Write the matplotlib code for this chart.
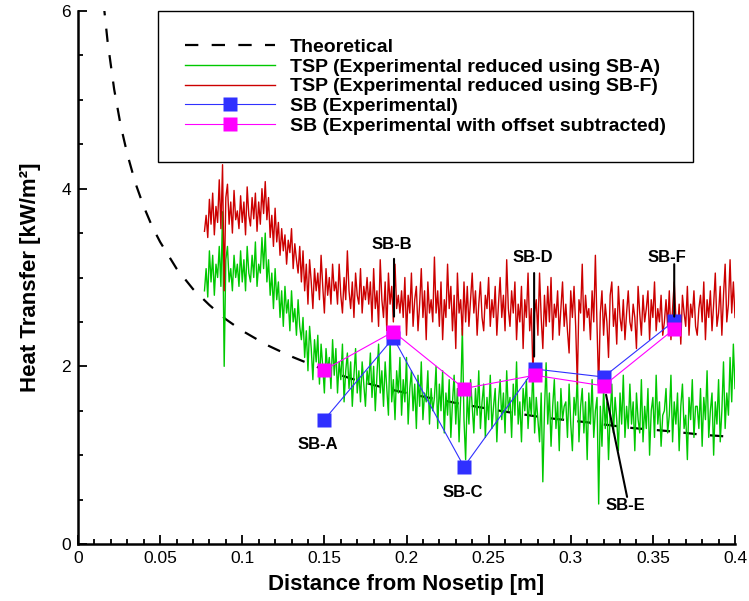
import numpy as np
import matplotlib
matplotlib.use('Agg')
import matplotlib.pyplot as plt

plt.rcParams['font.family'] = ['Liberation Sans', 'DejaVu Sans']

# ## Data
theo_x = [0.0155, 0.018, 0.022, 0.026, 0.030, 0.035, 0.040, 0.045, 0.050, 0.060,
          0.070, 0.080, 0.090, 0.100, 0.115, 0.130, 0.150, 0.170, 0.190, 0.210,
          0.235, 0.260, 0.285, 0.310, 0.335, 0.360, 0.380, 0.395]
theo_y = [6.10, 5.66, 5.12, 4.71, 4.39, 4.06, 3.80, 3.58, 3.40, 3.10,
          2.87, 2.69, 2.53, 2.40, 2.24, 2.11, 1.96, 1.84, 1.74, 1.66,
          1.57, 1.49, 1.42, 1.37, 1.31, 1.27, 1.23, 1.21]

# TSP traces, sampled every 0.001 m from 0.077 m
tsp_start, tsp_step = 0.077, 0.001
tsp_red = [
    3.52, 3.70, 3.45, 3.88, 3.60, 3.95, 3.48, 3.80, 3.62, 4.10, 3.55, 4.27, 2.85, 3.90, 4.05, 3.60, 3.85, 3.50, 3.98, 3.65,
    3.75, 3.55, 3.92, 3.62, 3.85, 3.48, 4.02, 3.70, 3.58, 3.90, 3.66, 3.95, 3.52, 3.85, 3.60, 4.00, 3.72, 4.08, 3.65, 3.90,
    3.45, 3.70, 3.35, 3.78, 3.40, 3.62, 3.25, 3.55, 3.30, 3.48, 3.15, 3.42, 3.28, 3.55, 3.10, 3.38, 3.20, 3.05, 3.35, 2.95,
    3.30, 2.85, 3.15, 2.70, 3.20, 2.95, 2.65, 3.10, 2.85, 3.05, 2.75, 3.25, 2.90, 2.60, 3.10, 2.80, 3.00, 2.70, 3.15, 2.85,
    2.95, 2.70, 3.15, 2.80, 2.60, 3.00, 2.75, 3.30, 2.85, 2.65, 2.95, 2.55, 3.05, 2.80, 2.70, 3.10, 2.60, 2.90, 2.75, 3.00,
    2.70, 2.95, 2.50, 3.10, 2.65, 2.85, 2.45, 3.20, 2.75, 2.55, 2.95, 2.40, 3.05, 2.70, 2.90, 2.50, 3.15, 2.65, 2.80, 2.60,
    2.85, 2.55, 3.00, 2.35, 2.80, 2.60, 3.05, 2.45, 2.75, 2.90, 2.40, 2.70, 3.10, 2.55, 2.85, 2.30, 2.95, 2.60, 2.75, 2.50,
    3.23, 2.60, 2.85, 2.45, 2.95, 2.30, 2.75, 2.55, 3.15, 2.65, 2.90, 2.40, 2.80, 2.20, 3.05, 2.60, 2.75, 2.35, 2.95, 2.50,
    2.90, 2.45, 2.75, 3.05, 2.60, 2.85, 2.35, 2.70, 2.95, 2.55, 2.40, 2.80, 2.65, 3.00, 2.45, 2.75, 2.55, 2.90, 2.35, 2.70,
    3.00, 2.55, 2.80, 2.40, 3.20, 2.65, 2.45, 2.85, 2.60, 2.95, 2.30, 2.70, 2.50, 2.90, 2.20, 2.75, 2.55, 3.05, 2.40, 2.65,
    1.90, 2.60, 2.75, 2.35, 3.05, 2.55, 2.20, 2.80, 2.45, 2.90, 2.50, 3.00, 2.30, 2.70, 2.55, 2.85, 2.35, 2.65, 2.95, 2.45,
    2.70, 2.40, 2.15, 2.85, 2.55, 2.90, 2.45, 1.80, 2.75, 2.60, 3.15, 2.40, 2.80, 2.55, 2.65, 2.30, 2.85, 2.50, 3.25, 2.45,
    1.75, 2.60, 2.85, 2.35, 2.70, 2.50, 2.10, 2.80, 2.95, 2.45, 2.65, 2.25, 2.90, 2.55, 2.40, 2.75, 2.30, 2.60, 2.85, 2.50,
    2.40, 2.70, 2.55, 2.20, 2.90, 2.60, 2.35, 2.80, 2.50, 2.65, 2.85, 2.30, 2.75, 2.55, 2.95, 2.40, 2.65, 2.50, 2.80, 2.35,
    2.50, 2.75, 2.45, 2.85, 2.30, 2.65, 2.95, 2.55, 2.40, 2.70, 2.25, 2.80, 2.60, 2.45, 2.90, 2.35, 2.70, 2.55, 2.85, 2.45,
    2.35, 2.65, 2.80, 2.50, 2.95, 2.30, 2.75, 2.55, 2.85, 2.40, 2.70, 3.05, 2.45, 2.60, 2.90, 2.35, 2.80, 3.15, 2.50, 2.70,
    3.20, 2.60, 2.95, 2.55]
tsp_green = [
    2.85, 3.10, 2.78, 3.30, 2.95, 3.25, 2.80, 3.15, 3.00, 3.35, 2.90, 3.74, 2.00, 3.20, 3.35, 2.95, 3.10, 2.85, 3.25, 3.00,
    3.15, 2.90, 3.30, 2.95, 3.20, 2.85, 3.35, 3.05, 2.95, 3.25, 3.00, 3.40, 2.90, 3.15, 3.05, 3.45, 3.10, 3.50, 2.95, 3.20,
    2.80, 3.05, 2.65, 3.10, 2.75, 2.95, 2.55, 2.85, 2.45, 2.90, 2.60, 2.75, 2.40, 2.85, 2.50, 2.65, 2.35, 2.75, 2.45, 2.30,
    2.55, 2.10, 2.40, 1.95, 2.45, 2.20, 1.85, 2.30, 2.05, 2.35, 1.80, 2.25, 2.00, 1.70, 2.20, 1.95, 2.10, 1.75, 2.30, 1.90,
    2.20, 1.70, 2.05, 1.85, 2.25, 1.60, 1.95, 2.15, 1.75, 2.05, 1.55, 1.90, 2.20, 1.70, 1.95, 1.60, 2.05, 1.80, 1.55, 1.95,
    1.80, 2.15, 1.65, 2.00, 1.50, 1.90, 2.25, 1.70, 1.95, 1.55, 2.05, 1.75, 1.45, 2.30, 1.60, 1.85, 1.40, 1.95, 1.70, 2.10,
    1.45, 1.85, 1.60, 2.10, 1.35, 1.75, 1.95, 1.50, 1.80, 1.30, 1.90, 1.55, 2.05, 1.40, 1.70, 1.60, 1.95, 1.35, 1.75, 1.50,
    1.65, 2.00, 1.30, 1.80, 1.50, 1.95, 1.25, 1.70, 1.45, 1.85, 1.20, 1.60, 1.90, 1.35, 1.75, 1.15, 1.65, 2.43, 1.40, 0.95,
    1.70, 1.35, 1.85, 1.55, 1.25, 1.75, 1.45, 1.95, 1.30, 1.60, 1.80, 1.20, 1.65, 1.40, 1.90, 1.30, 1.55, 1.75, 1.15, 1.60,
    1.85, 1.40, 1.70, 1.25, 1.95, 1.50, 1.65, 1.20, 1.80, 1.45, 2.05, 1.35, 1.60, 1.15, 1.75, 1.50, 1.85, 1.30, 1.65, 1.45,
    2.00, 1.25, 1.65, 1.40, 1.15, 1.70, 0.70, 1.50, 2.04, 1.35, 1.70, 1.10, 1.55, 1.85, 1.30, 1.60, 1.05, 1.75, 1.40, 1.55,
    1.60, 1.20, 1.80, 1.35, 1.05, 1.65, 1.45, 1.90, 1.15, 1.55, 1.75, 1.25, 1.60, 0.95, 1.70, 1.35, 1.85, 1.20, 1.50, 1.65,
    0.45, 1.55, 1.10, 1.75, 1.30, 1.60, 0.95, 1.45, 1.80, 1.25, 1.65, 1.40, 1.05, 1.70, 1.35, 1.90, 1.20, 1.55, 1.30, 1.80,
    1.35, 1.60, 1.05, 1.70, 1.40, 1.25, 1.85, 1.15, 1.55, 1.30, 1.75, 1.00, 1.50, 1.65, 1.20, 1.90, 1.35, 1.60, 1.10, 1.45,
    1.50, 1.75, 1.25, 1.45, 1.90, 1.15, 1.60, 1.35, 1.70, 1.05, 1.55, 1.80, 1.30, 1.45, 0.95, 1.65, 1.40, 1.85, 1.20, 1.55,
    1.55, 1.30, 1.75, 1.10, 1.65, 1.40, 1.95, 1.20, 1.50, 1.70, 1.00, 1.60, 1.35, 1.85, 1.15, 1.50, 2.05, 1.30, 1.70, 1.45,
    2.10, 1.60, 2.25, 1.75]

sb_names = ['SB-A', 'SB-B', 'SB-C', 'SB-D', 'SB-E', 'SB-F']
sb_x = [0.150, 0.192, 0.235, 0.278, 0.320, 0.363]
sb_exp = [1.40, 2.32, 0.87, 1.97, 1.88, 2.51]
sb_offset = [1.96, 2.39, 1.75, 1.90, 1.78, 2.42]

tsp_x = tsp_start + tsp_step * np.arange(len(tsp_red))

# ## Figure
fig = plt.figure(figsize=(7.49, 6.01), dpi=100)
ax = fig.add_axes([78 / 749, 57 / 601, 657 / 749, 533 / 601])

ax.plot(theo_x, theo_y, color='black', lw=1.6, ls=(0, (6, 6)), label='Theoretical')
ax.plot(tsp_x, tsp_green, color='#00c800', lw=1.0,
        label='TSP (Experimental reduced using SB-A)')
ax.plot(tsp_x, tsp_red, color='#cc0000', lw=1.0,
        label='TSP (Experimental reduced using SB-F)')
ax.plot(sb_x, sb_exp, color='#3030ff', lw=0.8, marker='s', ms=9.5,
        mec='none', label='SB (Experimental)')
ax.plot(sb_x, sb_offset, color='#ff00ff', lw=0.8, marker='s', ms=9.5,
        mec='none', label='SB (Experimental with offset subtracted)')

# SB labels and leader lines
label_pos = {'SB-A': (0.146, 1.115), 'SB-B': (0.1912, 3.37), 'SB-C': (0.2345, 0.585),
             'SB-D': (0.2771, 3.22), 'SB-E': (0.333, 0.43), 'SB-F': (0.3587, 3.23)}
leaders = {'SB-B': ((0.1924, 3.21), (0.1924, 2.56)),
           'SB-D': ((0.2777, 3.05), (0.2777, 2.11)),
           'SB-F': ((0.3630, 3.15), (0.3630, 2.56)),
           'SB-E': ((0.3215, 1.68), (0.3343, 0.53))}
for name in sb_names:
    tx, ty = label_pos[name]
    ax.text(tx, ty, name, ha='center', va='center', fontsize=12, fontweight='bold')
    if name in leaders:
        (x0, y0), (x1, y1) = leaders[name]
        ax.annotate('', xy=(x1, y1), xytext=(x0, y0),
                    arrowprops=dict(arrowstyle='-', lw=1.5, color='black',
                                    shrinkA=0, shrinkB=0))

ax.set_xlim(0, 0.4)
ax.set_ylim(0, 6)
ax.set_xticks(np.arange(0, 0.401, 0.05))
ax.set_xticklabels(['0', '0.05', '0.1', '0.15', '0.2', '0.25', '0.3', '0.35', '0.4'])
ax.set_xticks(np.arange(0, 0.401, 0.01), minor=True)
ax.set_yticks([0, 2, 4, 6])
ax.set_yticks(np.arange(0, 6.01, 0.5), minor=True)
ax.tick_params(which='both', direction='in', width=1.3, labelsize=12.5)
ax.tick_params(which='major', length=6.5, pad=5)
ax.tick_params(which='minor', length=3.5)
for side in ['top', 'right']:
    ax.spines[side].set_visible(False)
for side in ['left', 'bottom']:
    ax.spines[side].set_linewidth(1.8)

ax.set_xlabel('Distance from Nosetip [m]', fontsize=16, fontweight='bold', labelpad=6)
ax.set_ylabel('Heat Transfer [kW/m²]', fontsize=16, fontweight='bold', labelpad=15)

leg = ax.legend(loc='upper left', bbox_to_anchor=(80 / 657, 1.0), borderaxespad=0,
                prop={'weight': 'bold', 'size': 14}, handlelength=4.6,
                handletextpad=0.8, labelspacing=0.11, borderpad=1.4,
                numpoints=1, fancybox=False, framealpha=1, edgecolor='black')
leg.get_frame().set_linewidth(1.0)

fig.savefig('out.png', dpi=100)
